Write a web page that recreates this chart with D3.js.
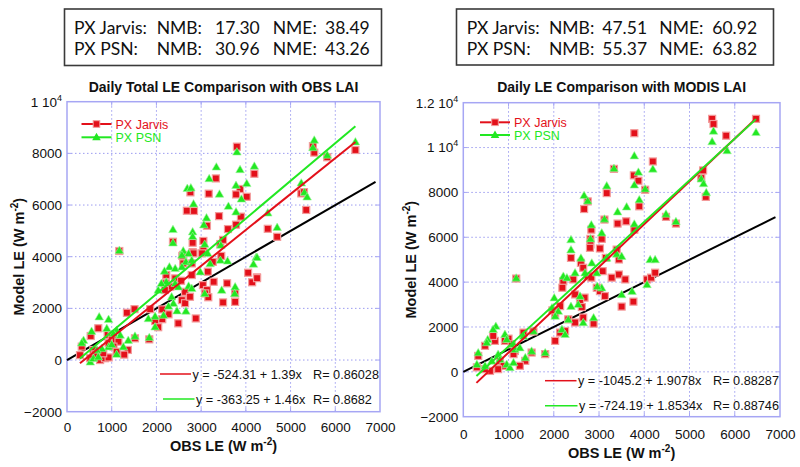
<!DOCTYPE html>
<html><head><meta charset="utf-8">
<script src="https://cdn.jsdelivr.net/npm/d3@7"></script>
<style>
body{margin:0;background:#fff}
svg{display:block}
text{font-family:"Liberation Sans",Arial,Helvetica,sans-serif}
</style>
</head><body>
<svg id="c" width="800" height="467"></svg>
<script>
// ---------------- DATA ----------------
const xTicks = [0,1000,2000,3000,4000,5000,6000,7000];
const leftYTicks = [-2000,0,2000,4000,6000,8000,10000];
const rightYTicks = [-2000,0,2000,4000,6000,8000,10000,12000];

const leftTitle = "Daily Total LE Comparison with OBS LAI";
const rightTitle = "Daily LE Comparison with MODIS LAI";
const seriesNames = ["PX Jarvis","PX PSN"];

const leftStats = [["PX Jarvis:","NMB:","17.30","NME:","38.49"],["PX PSN:","NMB:","30.96","NME:","43.26"]];
const rightStats = [["PX Jarvis:","NMB:","47.51","NME:","60.92"],["PX PSN:","NMB:","55.37","NME:","63.82"]];

// regression: [intercept, slope, label, Rlabel]
const leftFits = [[-524.31,1.39,"y = -524.31 + 1.39x","R= 0.86028"],[-363.25,1.46,"y = -363.25 + 1.46x","R= 0.8682"]];
const rightFits = [[-1045.2,1.9078,"y = -1045.2 + 1.9078x","R= 0.88287"],[-724.19,1.8534,"y = -724.19 + 1.8534x","R= 0.88746"]];
const fitRangeLeft = [290,6450];
const fitRangeRight = [290,6470];
const oneToOne = [0,6900];

const leftJarvis = [[3800,8260],[4190,7210],[3330,7030],[2760,6490],[3870,6620],[3780,6410],[4020,6320],[3170,6440],[2680,5780],[2840,5770],[3400,5570],[3890,5550],[3780,5240],[3600,5070],[3130,5200],[2370,4580],[2810,4540],[3050,4610],[1170,4220],[2810,4180],[3050,4250],[3430,4490],[3490,4650],[2600,4070],
[5500,8280],[5530,8030],[5820,7850],[6450,8130],[5240,6450],[5300,6500],[5350,5810],[4490,5080],[4700,4770],[4250,3200],
[2580,4030],[2830,4130],[3020,4130],[2600,3740],[2790,3740],[3260,3800],[3450,4030],[2220,3290],[2420,3160],[2550,3070],[2210,2970],[2310,2840],[2190,2710],[2790,3290],[3150,3420],[3040,2900],[3130,2710],[3090,2580],[3160,2430],[2640,2640],[2570,2320],[2640,2200],[2750,2450],[3280,3030],[3580,2970],[3760,2580],[3490,2230],[3760,2250],[4050,3380],[4140,3010],[4250,3170],[2880,1610],[2490,1420],[2270,1770],[1970,1510],[2130,1580],[2040,1270],[1860,1970],[2130,1960],[1340,1830],[1510,1970],[700,1230],[530,930],[910,970],[1000,930],[1080,770],[1150,710],[930,650],[1040,520],[1520,840],[1360,390],[1280,210],[1840,800],[1110,320],[330,520],[290,190],[590,390],[670,130],[740,0],[850,70],[930,100],[810,260],[630,220],[520,70]];

const leftPSN = [[3800,8060],[4190,7510],[3870,7380],[3340,7480],[2690,6650],[2770,6670],[3180,7030],[3410,6430],[3780,6770],[4020,6840],[3900,6240],[2830,6050],[3610,5960],[3780,5740],[3120,5510],[3060,5240],[2370,5060],[2810,4970],[2810,4790],[2370,4540],[3080,4490],[3440,4450],[1170,4250],[2600,4230],[2720,4130],[3150,4130],
[5530,8520],[5500,8230],[5820,7940],[6450,8450],[5240,6860],[5310,6500],[5370,6320],[4490,5700],[4700,5140],[4230,3980],
[2570,4070],[2660,3810],[2790,3870],[2290,3610],[2420,3550],[2570,3610],[2180,3450],[2220,3030],[2040,2710],[2110,2970],[2420,2970],[2490,2840],[2340,2450],[2380,2200],[2720,2870],[2790,2780],[2980,3420],[3200,3740],[3430,3870],[3590,3840],[3080,2580],[3460,2710],[3760,2840],[3750,2580],[4170,3720],[4250,3980],[2660,1900],[2460,1910],[2270,2090],[2160,1740],[1970,1700],[1970,1290],[1820,1610],[1370,770],[1840,880],[1520,930],[720,1680],[550,1120],[930,1580],[1110,1160],[1190,970],[1040,1030],[930,520],[1000,610],[780,450],[670,390],[370,770],[330,670],[1260,520],[1110,230],[520,-70],[590,70],[700,130],[890,1230]];

const rightJarvis = [[3780,10640],[4190,9380],[3330,9050],[3770,8760],[3870,8520],[4020,8120],[3170,7970],[2750,7600],[2670,7260],[3890,7380],[3120,6790],[3410,6610],[3600,6710],[2830,6340],[3780,6340],[3060,5930],[2810,5930],[2810,5680],
[5500,11280],[5530,11050],[5810,10530],[6470,11280],[5300,8980],[5260,8640],[5360,7800],[4480,6910],[4700,6610],
[2380,5080],[2800,5530],[3020,5500],[2600,4860],[2650,4640],[3150,5080],[3390,5450],[3440,5010],[1170,4160],[2210,4040],[2190,3750],[2430,4120],[2750,4270],[2830,4200],[3080,4490],[3280,4200],[3440,4340],[3580,4120],[4060,4120],[4150,4200],[4240,4420],[2950,3750],[3020,3600],[3130,3380],[3500,2910],[3760,3130],[2680,3310],[2580,3080],[2620,2890],[2470,3450],[2140,2930],[2030,2560],[1970,2740],[2320,2340],[2470,2200],[2650,2420],[2880,2150],[2250,1820],[2140,1750],[2030,1380],[1550,1800],[1330,1750],[700,1380],[660,1600],[920,1380],[1000,1480],[480,1160],[330,710],[1070,1230],[1140,930],[1110,790],[1370,490],[1510,860],[1810,790],[1250,270],[810,490],[890,270],[770,120],[590,40],[480,120],[300,200]];

const rightPSN = [[3780,9640],[4190,9050],[3330,9080],[3870,8910],[3780,8340],[4020,8160],[3170,8300],[3890,7680],[2670,7870],[2750,7630],[3610,7360],[3410,7140],[3120,6820],[2830,6560],[3780,6600],[3060,6200],[2380,5900],[2810,5940],
[5530,10740],[5500,10270],[6470,10680],[5830,9870],[5260,8610],[5310,8400],[5370,8000],[4480,7040],[4700,6710],
[2380,5450],[2600,5080],[2840,4860],[2950,4420],[3170,5080],[3390,5260],[3500,5160],[2210,4270],[2290,4200],[2470,4420],[2690,4420],[4130,5010],[4240,5010],[4060,3900],[3730,3600],[3500,3450],[3060,3750],[2960,3820],[2580,3380],[2540,3010],[2380,2930],[2010,3310],[1960,2860],[2100,2710],[2030,2490],[2320,2340],[2650,2200],[2880,2420],[2180,1900],[2250,1680],[720,2040],[660,1900],[920,1680],[960,1450],[540,1450],[520,1310],[330,860],[1550,1820],[1330,1600],[1110,1230],[1140,1010],[1250,1080],[1810,860],[1510,930],[1370,640],[770,790],[810,560],[630,490],[480,270],[300,340],[960,340],[1030,200],[1110,420],[1170,4190]];

// ---------------- DRAW ----------------
const svg = d3.select("#c");
const RED = "#e3101a", GREEN = "#22e822", FRAME = "#a6a6f4", GRID = "#9c9cf0";

function statBox(b, rows) {
  svg.append("rect").attr("x", b.x).attr("y", b.y).attr("width", b.w).attr("height", b.h)
    .attr("fill", "#fff").attr("stroke", "#3a3a3a").attr("stroke-width", 1.6);
  rows.forEach((row, ri) => {
    row.forEach((t, ci) => {
      svg.append("text").attr("x", b.cols[ci]).attr("y", b.base[ri])
        .style("font-family", "Lato, 'Open Sans', sans-serif").style("font-size", "17.5px")
        .attr("fill", "#111").text(t);
    });
  });
}

function supLabel(sel, main, sup) {
  sel.text(null);
  sel.append("tspan").text(main);
  sel.append("tspan").attr("dy", -6).style("font-size", "9px").text(sup);
}

function panel(c) {
  const x = d3.scaleLinear().domain([0, 7000]).range([c.x0, c.x1]);
  const y = d3.scaleLinear().domain(c.yDomain).range([c.y0, c.y1]);
  const g = svg.append("g");

  // grid
  g.selectAll(".vg").data(xTicks.slice(1, -1)).join("line")
    .attr("x1", d => x(d)).attr("x2", d => x(d)).attr("y1", c.y0).attr("y2", c.y1)
    .attr("stroke", GRID).attr("stroke-width", 1).attr("stroke-dasharray", "1.5,2.5");
  g.selectAll(".hg").data(c.yTicks.slice(1, -1)).join("line")
    .attr("y1", d => y(d)).attr("y2", d => y(d)).attr("x1", c.x0).attr("x2", c.x1)
    .attr("stroke", GRID).attr("stroke-width", 1).attr("stroke-dasharray", "1.5,2.5");

  // frame
  g.append("rect").attr("x", c.x0).attr("y", c.y1).attr("width", c.x1 - c.x0).attr("height", c.y0 - c.y1)
    .attr("fill", "none").attr("stroke", FRAME).attr("stroke-width", 1.5);
  const tl = 4;
  xTicks.slice(1, -1).forEach(d => {
    g.append("line").attr("x1", x(d)).attr("x2", x(d)).attr("y1", c.y0).attr("y2", c.y0 - tl).attr("stroke", FRAME);
    g.append("line").attr("x1", x(d)).attr("x2", x(d)).attr("y1", c.y1).attr("y2", c.y1 + tl).attr("stroke", FRAME);
  });
  c.yTicks.slice(1, -1).forEach(d => {
    g.append("line").attr("y1", y(d)).attr("y2", y(d)).attr("x1", c.x0).attr("x2", c.x0 + tl).attr("stroke", FRAME);
    g.append("line").attr("y1", y(d)).attr("y2", y(d)).attr("x1", c.x1).attr("x2", c.x1 - tl).attr("stroke", FRAME);
  });

  // axes
  const ax = g.append("g").attr("transform", `translate(0,${c.y0})`)
    .call(d3.axisBottom(x).tickValues(xTicks).tickSize(0).tickPadding(c.xPad).tickFormat(d3.format("d")));
  ax.select(".domain").remove();
  ax.selectAll("text").style("font-size", "13.5px").attr("fill", "#111")
    .style("font-family", "'Liberation Sans',Arial,sans-serif");

  const ay = g.append("g").attr("transform", `translate(${c.x0},0)`)
    .call(d3.axisLeft(y).tickValues(c.yTicks).tickSize(0).tickPadding(5).tickFormat(d3.format("d")));
  ay.select(".domain").remove();
  ay.selectAll("text").style("font-size", "13.5px").attr("fill", "#111")
    .style("font-family", "'Liberation Sans',Arial,sans-serif")
    .each(function (d) {
      if (d === 10000) supLabel(d3.select(this), "1 10", "4");
      if (d === 12000) supLabel(d3.select(this), "1.2 10", "4");
    });

  // title
  g.append("text").attr("x", (c.x0 + c.x1) / 2).attr("y", c.titleY).attr("text-anchor", "middle")
    .style("font-size", "14px").style("font-weight", "bold").attr("fill", "#111").text(c.title);

  // x title
  const xt = g.append("text").attr("x", (c.x0 + c.x1) / 2).attr("y", c.xTitleY).attr("text-anchor", "middle")
    .style("font-size", "14.5px").style("font-weight", "bold").attr("fill", "#111");
  xt.append("tspan").text("OBS LE (W m");
  xt.append("tspan").attr("dy", -6).style("font-size", "10px").text("-2");
  xt.append("tspan").attr("dy", 6).text(")");

  // y title
  const yt = g.append("text").attr("transform", `translate(${c.yTitleX},${(c.y0 + c.y1) / 2}) rotate(-90)`)
    .attr("text-anchor", "middle").style("font-size", "14.5px").style("font-weight", "bold").attr("fill", "#111");
  yt.append("tspan").text("Model LE (W m");
  yt.append("tspan").attr("dy", -6).style("font-size", "10px").text("-2");
  yt.append("tspan").attr("dy", 6).text(")");

  // 1:1 line
  g.append("line").attr("x1", x(oneToOne[0])).attr("y1", y(oneToOne[0]))
    .attr("x2", x(oneToOne[1])).attr("y2", y(oneToOne[1]))
    .attr("stroke", "#000").attr("stroke-width", 2);

  // markers
  const sq = 7;
  g.append("g").selectAll("rect").data(c.jarvis).join("rect")
    .attr("x", d => x(d[0]) - sq / 2).attr("y", d => y(d[1]) - sq / 2)
    .attr("width", sq).attr("height", sq)
    .attr("fill", RED).attr("stroke", "#f39a9a").attr("stroke-width", 1.2);
  const tri = d3.symbol().type(d3.symbolTriangle).size(32);
  g.append("g").selectAll("path").data(c.psn).join("path")
    .attr("d", tri).attr("transform", d => `translate(${x(d[0])},${y(d[1]) + 0.8})`)
    .attr("fill", GREEN).attr("stroke", "#9ef59e").attr("stroke-width", 0.6);

  // fit lines
  const cols = [RED, GREEN];
  c.fits.forEach((f, i) => {
    g.append("line").attr("x1", x(c.fitRange[0])).attr("y1", y(f[0] + f[1] * c.fitRange[0]))
      .attr("x2", x(c.fitRange[1])).attr("y2", y(f[0] + f[1] * c.fitRange[1]))
      .attr("stroke", cols[i]).attr("stroke-width", 2);
  });

  // legend (series)
  seriesNames.forEach((n, i) => {
    const ly = c.legY[i];
    g.append("line").attr("x1", c.legX).attr("x2", c.legX + 30).attr("y1", ly).attr("y2", ly)
      .attr("stroke", cols[i]).attr("stroke-width", 2);
    if (i === 0) {
      g.append("rect").attr("x", c.legX + 15 - 3.3).attr("y", ly - 3.3).attr("width", 6.6).attr("height", 6.6)
        .attr("fill", RED).attr("stroke", "#f39a9a").attr("stroke-width", 1);
    } else {
      g.append("path").attr("d", tri).attr("transform", `translate(${c.legX + 15},${ly + 0.5})`).attr("fill", GREEN);
    }
    g.append("text").attr("x", c.legX + 34).attr("y", ly + 4.5).style("font-size", "12.5px")
      .attr("fill", cols[i]).text(n);
  });

  // fit legend
  c.fits.forEach((f, i) => {
    const ly = c.fitLegY[i];
    g.append("line").attr("x1", c.fitLegX[i][0]).attr("x2", c.fitLegX[i][1]).attr("y1", ly).attr("y2", ly)
      .attr("stroke", cols[i]).attr("stroke-width", 1.5);
    g.append("text").attr("x", c.fitLegX[i][1] + 1.5).attr("y", ly + 4.6).style("font-size", "12.7px")
      .attr("fill", "#111").text(f[2]);
    g.append("text").attr("x", c.rX).attr("y", ly + 4.6).style("font-size", "12.7px")
      .attr("fill", "#111").text(f[3]);
  });
}

statBox({x: 64.5, y: 9, w: 317, h: 56.5, cols: [74, 156.7, 215, 272.7, 325], base: [33.5, 54.5]}, leftStats);
statBox({x: 456.5, y: 9, w: 317, h: 56, cols: [466.7, 549, 602.3, 659.3, 712.3], base: [33.5, 54.5]}, rightStats);

panel({
  x0: 67, x1: 380, y0: 411.7, y1: 101.7, yDomain: [-2000, 10000], yTicks: leftYTicks,
  title: leftTitle, titleY: 92, xPad: 11, xTitleY: 450.5, yTitleX: 24,
  jarvis: leftJarvis, psn: leftPSN, fits: leftFits, fitRange: fitRangeLeft,
  legX: 81.5, legY: [124, 137.3],
  fitLegX: [[160, 191], [163, 194.5]], fitLegY: [374, 399], rX: 313
});
panel({
  x0: 463.3, x1: 780, y0: 416.7, y1: 102.7, yDomain: [-2000, 12000], yTicks: rightYTicks,
  title: rightTitle, titleY: 92, xPad: 12.5, xTitleY: 457.5, yTitleX: 416,
  jarvis: rightJarvis, psn: rightPSN, fits: rightFits, fitRange: fitRangeRight,
  legX: 480, legY: [122.3, 135],
  fitLegX: [[545, 576.5], [545, 577.5]], fitLegY: [380.7, 405.7], rX: 713
});
</script>
</body></html>
